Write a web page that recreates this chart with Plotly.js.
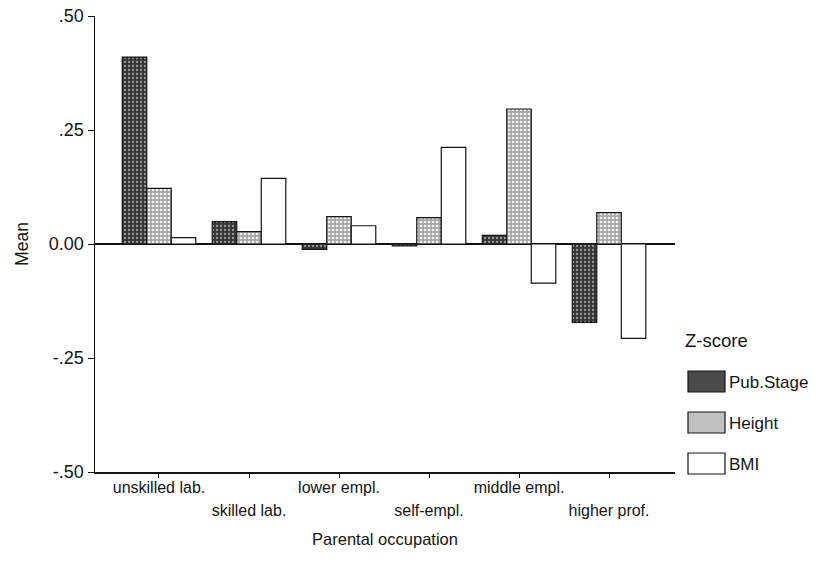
<!DOCTYPE html>
<html>
<head>
<meta charset="utf-8">
<script src="https://cdn.plot.ly/plotly-3.0.1.min.js"></script>
<style>
  html, body { margin: 0; padding: 0; background: #fff; }
  #chart { width: 829px; height: 580px; }
</style>
</head>
<body>
<div id="chart"></div>
<script>
// Mean z-scores by parental occupation
const categories = ['unskilled lab.', 'skilled lab.', 'lower empl.', 'self-empl.', 'middle empl.', 'higher prof.'];
const seriesNames = ['Pub.Stage', 'Height', 'BMI'];
const pubStage = [0.410, 0.049, -0.012, -0.004, 0.019, -0.172];
const heightZ = [0.122, 0.027, 0.060, 0.058, 0.296, 0.069];
const bmiZ = [0.014, 0.144, 0.040, 0.212, -0.086, -0.207];
const yTickVals = [-0.5, -0.25, 0, 0.25, 0.5];
const yTickText = ['-.50', '-.25', '0.00', '.25', '.50'];

const FONT = '"Liberation Sans", Arial, Helvetica, sans-serif';
const INK = '#141414';

// plot area in pixels
const W = 829, H = 580;
const L = 95, R = 675, T = 16, B = 472;
const px2x = p => (p - L) / (R - L);
const px2y = p => (B - p) / (B - T);
const X_RANGE = [-0.711, 5.733];

// fills for each series (solid for legend swatches, textured for bars)
const solid = ['#4a4a4a', '#c0c0c0', '#ffffff'];
const patterns = [
  { shape: '.', bgcolor: '#363636', fgcolor: '#9a9a9a', size: 4, solidity: 0.25, fillmode: 'replace' },
  { shape: '.', bgcolor: '#a6a6a6', fgcolor: '#f2f2f2', size: 4, solidity: 0.35, fillmode: 'replace' },
  null
];
const values = [pubStage, heightZ, bmiZ];

const traces = values.map((vals, i) => {
  const marker = { color: solid[i], line: { color: INK, width: 1.2 } };
  if (patterns[i]) marker.pattern = patterns[i];
  return {
    type: 'bar', name: seriesNames[i], x: categories, y: vals,
    xaxis: 'x', yaxis: 'y', marker: marker, showlegend: false, hoverinfo: 'x+y'
  };
});

// carrier for the second row of category labels
traces.push({
  type: 'scatter', mode: 'markers', x: categories, y: categories.map(() => null),
  xaxis: 'x2', yaxis: 'y', showlegend: false, hoverinfo: 'skip'
});

// staggered tick labels: even categories on the first row, odd ones on the second
const row1Text = categories.map((c, i) => (i % 2 === 0 ? c : ''));
const row2Text = categories.map((c, i) => (i % 2 === 1 ? c : ''));

const shapes = [];
const annotations = [];

// legend built from the series names
annotations.push({
  xref: 'paper', yref: 'paper', x: px2x(683), y: px2y(340),
  xanchor: 'left', yanchor: 'middle', showarrow: false,
  text: 'Z-score', font: { family: FONT, size: 18.5, color: INK }
});
const swTop = [371, 412, 453];
seriesNames.forEach((name, i) => {
  shapes.push({
    type: 'rect', xref: 'paper', yref: 'paper',
    x0: px2x(688), x1: px2x(725), y0: px2y(swTop[i] + 21), y1: px2y(swTop[i]),
    fillcolor: solid[i], line: { color: INK, width: 1.2 }
  });
  annotations.push({
    xref: 'paper', yref: 'paper', x: px2x(727), y: px2y(swTop[i] + 11),
    xanchor: 'left', yanchor: 'middle', showarrow: false,
    text: name, font: { family: FONT, size: 17, color: INK }
  });
});

const tickFont = { family: FONT, size: 16, color: INK };

const layout = {
  width: W, height: H,
  margin: { l: L, r: W - R, t: T, b: H - B, pad: 0 },
  paper_bgcolor: '#ffffff', plot_bgcolor: 'rgba(0,0,0,0)',
  font: { family: FONT, size: 16, color: INK },
  barmode: 'group', bargap: 0.183, bargroupgap: 0,
  showlegend: false,
  xaxis: {
    type: 'category', categoryorder: 'array', categoryarray: categories,
    range: X_RANGE, domain: [0, 1], anchor: 'y',
    showline: true, linecolor: INK, linewidth: 1.5,
    showgrid: false, zeroline: false,
    ticks: 'outside', ticklen: 4, tickcolor: INK, tickwidth: 1,
    ticklabelstandoff: -4,
    tickmode: 'array', tickvals: categories, ticktext: row1Text,
    tickangle: 0, tickfont: tickFont,
    title: { text: 'Parental occupation', font: { family: FONT, size: 16.5, color: INK }, standoff: 38 }
  },
  xaxis2: {
    type: 'category', categoryorder: 'array', categoryarray: categories,
    range: X_RANGE, overlaying: 'x', anchor: 'y', side: 'bottom',
    showline: false, showgrid: false, zeroline: false,
    ticks: '', ticklabelstandoff: 27,
    tickmode: 'array', tickvals: categories, ticktext: row2Text,
    tickangle: 0, tickfont: tickFont
  },
  yaxis: {
    range: [-0.5, 0.5], domain: [0, 1],
    showline: true, linecolor: INK, linewidth: 1.5,
    showgrid: false, zeroline: true, zerolinecolor: INK, zerolinewidth: 1.5,
    ticks: 'outside', ticklen: 6, tickcolor: INK, tickwidth: 1,
    tickmode: 'array', tickvals: yTickVals, ticktext: yTickText,
    tickfont: { family: FONT, size: 18, color: INK },
    title: { text: 'Mean', font: { family: FONT, size: 17.5, color: INK }, standoff: 15 }
  },
  shapes: shapes,
  annotations: annotations
};

Plotly.newPlot('chart', traces, layout, { staticPlot: true, displayModeBar: false });
</script>
</body>
</html>
